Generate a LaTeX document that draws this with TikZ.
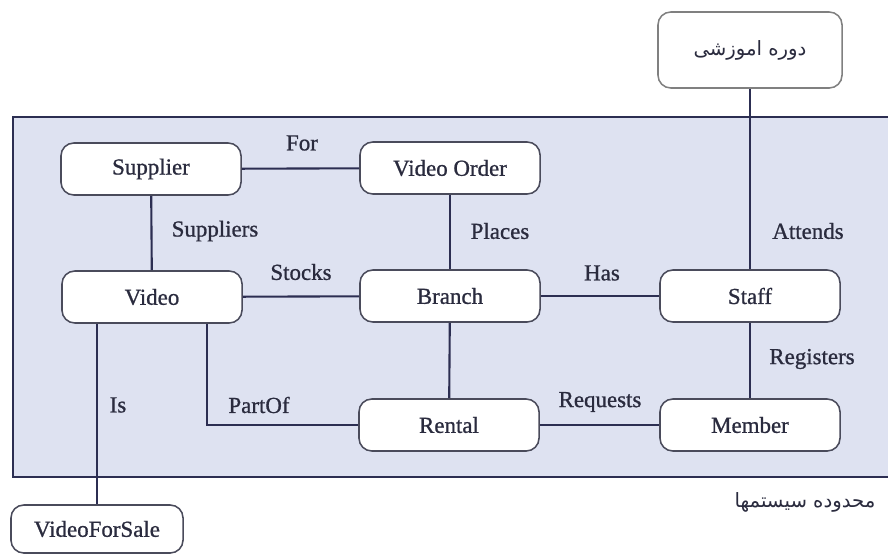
\documentclass[tikz,border=0pt]{standalone}
\usepackage{fontspec}
\setmainfont[FakeBold=0.9]{Liberation Serif}
\newfontfamily\arabicfont[Script=Arabic]{DejaVu Sans}
\TeXXeTstate=1
\definecolor{sysbg}{HTML}{DEE2F1}
\definecolor{linecol}{HTML}{2C2E52}
\definecolor{textcol}{HTML}{2A2B3E}
\tikzset{
  entity/.style={draw=textcol!85, line width=1.1pt, fill=white, rounded corners=0.32cm,
    minimum width=4.5cm, minimum height=1.3cm, text=textcol,
    font=\fontsize{16.3}{19}\selectfont},
  rel/.style={text=textcol, font=\fontsize{16.3}{19}\selectfont},
  link/.style={draw=linecol, line width=1.5pt}
}
\begin{document}
\begin{tikzpicture}[x=0.025cm, y=-0.025cm]
    \useasboundingbox (0,0) rectangle (888,555);
    \fill[sysbg] (13,117) rectangle (890,477);
    \draw[link] (890,117)--(13,117)--(13,477)--(890,477);

    \node[entity] (supplier) at (151,169) {Supplier};
    \node[entity] (order) at (450,168) {Video Order};
    \node[entity] (video) at (152,297) {Video};
    \node[entity] (branch) at (450,296) {Branch};
    \node[entity] (staff) at (750,296) {Staff};
    \node[entity] (rental) at (449,425) {Rental};
    \node[entity] (member) at (750,425) {Member};
    \node[entity, draw=gray, minimum width=4.6cm, minimum height=1.9cm] (course) at (750,50) {\arabicfont\fontsize{14}{17}\selectfont\beginR دوره اموزشی\endR};
    \node[entity, minimum width=4.3cm, minimum height=1.2cm] (sale) at (97,529) {VideoForSale};

    \draw[link] (supplier)--(order);
    \draw[link] (supplier)--(video);
    \draw[link] (order)--(branch);
    \draw[link] (video)--(branch);
    \draw[link] (branch)--(staff);
    \draw[link] (staff)--(course);
    \draw[link] (staff)--(member);
    \draw[link] (branch)--(rental);
    \draw[link] (rental)--(member);
    \draw[link] (video.south) ++(55,0) |- (rental.west);
    \draw[link] (video.south -| sale.north)--(sale.north);

    \node[rel] (lfor) at (302,143) {For};
    \node[rel] (lsuppliers) at (215,231) {Suppliers};
    \node[rel] (lplaces) at (500,231) {Places};
    \node[rel] (lstocks) at (301,272) {Stocks};
    \node[rel] (lhas) at (602,273) {Has};
    \node[rel] (lattends) at (808,231) {Attends};
    \node[rel] (lregisters) at (812,359) {Registers};
    \node[rel] (lrequests) at (600,402) {Requests};
    \node[rel] (lis) at (118,405) {Is};
    \node[rel] (lpartof) at (259,405) {PartOf};
    \node[text=textcol, font=\arabicfont\fontsize{14}{17}\selectfont] (lsystem) at (805,502) {\beginR محدوده سیستمها\endR};
\end{tikzpicture}
\end{document}
